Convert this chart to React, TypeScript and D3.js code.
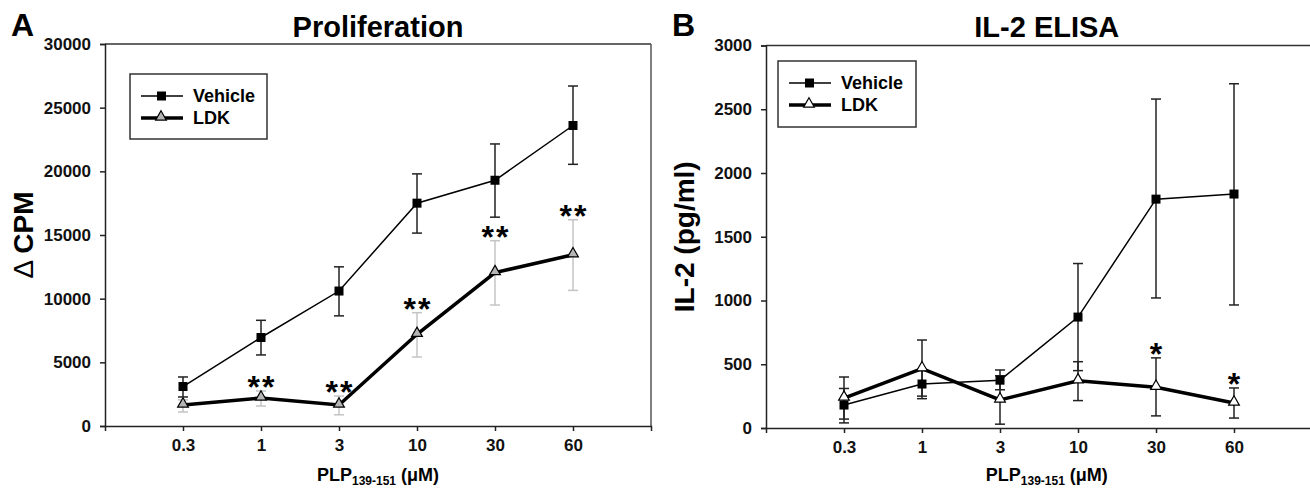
import React, { useEffect, useRef } from "react";
import * as d3 from "d3";

const W = 1310;
const H = 491;
const FONT = "'Liberation Sans', Arial, sans-serif";

// Data
const doses = ["0.3", "1", "3", "10", "30", "60"];

const profVehicle = [3100, 6950, 10600, 17500, 19300, 23600];
const profVehicleHi = [3850, 8300, 12500, 19800, 22150, 26700];
const profVehicleLo = [2280, 5580, 8650, 15150, 16400, 20550];
const profLdk = [1650, 2200, 1650, 7200, 12050, 13450];
const profLdkHi = [2050, 2750, 2350, 8900, 14550, 16200];
const profLdkLo = [1100, 1570, 880, 5420, 9500, 10650];
const profStars = ["", "**", "**", "**", "**", "**"];
const profTicks = [0, 5000, 10000, 15000, 20000, 25000, 30000];

const il2Vehicle = [180, 345, 375, 870, 1795, 1835];
const il2VehicleHi = [310, 455, 455, 1290, 2580, 2700];
const il2VehicleLo = [40, 230, 300, 450, 1020, 965];
const il2Ldk = [235, 465, 220, 370, 320, 196];
const il2LdkHi = [400, 690, 410, 520, 550, 314];
const il2LdkLo = [70, 250, 30, 215, 95, 78];
const il2Stars = ["", "", "", "", "*", "*"];
const il2Ticks = [0, 500, 1000, 1500, 2000, 2500, 3000];

interface Series {
  mean: number[];
  hi: number[];
  lo: number[];
}

interface PanelCfg {
  letter: string;
  title: string;
  yLabelPre: string;
  yLabel: string;
  left: number;
  right: number;
  top: number;
  bottom: number;
  yMax: number;
  ticks: number[];
  vehicle: Series;
  ldk: Series;
  stars: string[];
  ldkFill: string;
  ldkErr: string;
  rightBorder: boolean;
  titleAt: number;
  legend: { x: number; y: number; w: number; h: number };
}

const panels: PanelCfg[] = [
  {
    letter: "A",
    title: "Proliferation",
    yLabelPre: "\u0394 ",
    yLabel: "CPM",
    left: 105,
    right: 651,
    top: 44,
    bottom: 426,
    yMax: 30000,
    ticks: profTicks,
    vehicle: { mean: profVehicle, hi: profVehicleHi, lo: profVehicleLo },
    ldk: { mean: profLdk, hi: profLdkHi, lo: profLdkLo },
    stars: profStars,
    ldkFill: "#b4b4b4",
    ldkErr: "#c4c4c4",
    rightBorder: true,
    titleAt: 2.5,
    legend: { x: 130, y: 74, w: 137, h: 65 },
  },
  {
    letter: "B",
    title: "IL-2 ELISA",
    yLabelPre: "",
    yLabel: "IL-2 (pg/ml)",
    left: 766,
    right: 1312,
    top: 45.5,
    bottom: 428,
    yMax: 3000,
    ticks: il2Ticks,
    vehicle: { mean: il2Vehicle, hi: il2VehicleHi, lo: il2VehicleLo },
    ldk: { mean: il2Ldk, hi: il2LdkHi, lo: il2LdkLo },
    stars: il2Stars,
    ldkFill: "#ffffff",
    ldkErr: "#222",
    rightBorder: false,
    titleAt: 2.6,
    legend: { x: 778, y: 61, w: 138, h: 66 },
  },
];

const triangle = d3.symbol().type(d3.symbolTriangle).size(50);

function drawPanel(svg: d3.Selection<SVGSVGElement, unknown, null, undefined>, p: PanelCfg) {
  const g = svg.append("g");
  const x = d3.scaleLinear().domain([-1, 6]).range([p.left, p.right]);
  const y = d3.scaleLinear().domain([0, p.yMax]).range([p.bottom, p.top]);
  const idx = doses.map((_, i) => i);

  // box
  g.append("line")
    .attr("x1", p.left).attr("x2", p.right)
    .attr("y1", p.top).attr("y2", p.top)
    .attr("stroke", "#333").attr("stroke-width", 1.5);
  if (p.rightBorder) {
    g.append("line")
      .attr("x1", p.right).attr("x2", p.right)
      .attr("y1", p.top).attr("y2", p.bottom)
      .attr("stroke", "#555").attr("stroke-width", 1.5);
  }

  // y axis
  const yAxis = g.append("g")
    .attr("transform", `translate(${p.left},0)`)
    .call(d3.axisLeft(y).tickValues(p.ticks).tickSize(5).tickPadding(9).tickFormat(d3.format("d")));
  // x axis
  const xAxis = g.append("g")
    .attr("transform", `translate(0,${p.bottom})`)
    .call(d3.axisBottom(x).tickValues(idx).tickSize(5).tickPadding(8).tickFormat((d) => doses[+d]));

  [yAxis, xAxis].forEach((a) => {
    a.select(".domain").attr("stroke", "#222").attr("stroke-width", 1.5);
    a.selectAll(".tick line").attr("stroke", "#222").attr("stroke-width", 1.5);
    a.selectAll(".tick text")
      .attr("fill", "#111")
      .style("font-family", FONT)
      .style("font-size", "17px")
      .style("font-weight", "bold");
  });

  // error bars
  const errBars = (s: Series, color: string) => {
    const eg = g.append("g").attr("stroke", color).attr("stroke-width", 1.5);
    idx.forEach((i) => {
      eg.append("line")
        .attr("x1", x(i)).attr("x2", x(i))
        .attr("y1", y(s.hi[i])).attr("y2", y(s.lo[i]));
      [s.hi[i], s.lo[i]].forEach((v) => {
        eg.append("line")
          .attr("x1", x(i) - 5).attr("x2", x(i) + 5)
          .attr("y1", y(v)).attr("y2", y(v));
      });
    });
  };
  errBars(p.vehicle, "#222");
  errBars(p.ldk, p.ldkErr);

  const line = d3.line<number>().x((_, i) => x(i)).y((d) => y(d));

  g.append("path")
    .datum(p.ldk.mean)
    .attr("d", line)
    .attr("fill", "none")
    .attr("stroke", "#000")
    .attr("stroke-width", 3.5);
  g.append("path")
    .datum(p.vehicle.mean)
    .attr("d", line)
    .attr("fill", "none")
    .attr("stroke", "#000")
    .attr("stroke-width", 1.5);

  g.selectAll(".sq")
    .data(p.vehicle.mean)
    .enter()
    .append("rect")
    .attr("x", (_, i) => x(i) - 4.5)
    .attr("y", (d) => y(d) - 4.5)
    .attr("width", 9)
    .attr("height", 9)
    .attr("fill", "#000");

  g.selectAll(".tri")
    .data(p.ldk.mean)
    .enter()
    .append("path")
    .attr("d", triangle)
    .attr("transform", (d, i) => `translate(${x(i)},${y(d) - 1})`)
    .attr("fill", p.ldkFill)
    .attr("stroke", "#000")
    .attr("stroke-width", 1.2);

  // significance stars
  g.selectAll(".star")
    .data(p.stars)
    .enter()
    .append("text")
    .attr("x", (_, i) => x(i) + 1)
    .attr("y", (_, i) => y(p.ldk.hi[i]) + 7)
    .attr("text-anchor", "middle")
    .style("font-family", FONT)
    .style("font-size", "32px")
    .style("font-weight", "bold")
    .style("letter-spacing", "2px")
    .text((d) => d);

  // legend
  const L = p.legend;
  const lg = g.append("g").attr("transform", `translate(${L.x},${L.y})`);
  lg.append("rect")
    .attr("width", L.w).attr("height", L.h)
    .attr("fill", "#fff").attr("stroke", "#333").attr("stroke-width", 1.5);
  const rows = [
    { label: "Vehicle", dy: 22, w: 1.5, type: "sq" },
    { label: "LDK", dy: 44, w: 3.5, type: "tri" },
  ];
  rows.forEach((r) => {
    lg.append("line")
      .attr("x1", 11).attr("x2", 53)
      .attr("y1", r.dy).attr("y2", r.dy)
      .attr("stroke", "#000").attr("stroke-width", r.w);
    if (r.type === "sq") {
      lg.append("rect").attr("x", 27).attr("y", r.dy - 4.5).attr("width", 9).attr("height", 9).attr("fill", "#000");
    } else {
      lg.append("path")
        .attr("d", triangle)
        .attr("transform", `translate(31,${r.dy - 1})`)
        .attr("fill", p.ldkFill).attr("stroke", "#000").attr("stroke-width", 1.2);
    }
    lg.append("text")
      .attr("x", 63).attr("y", r.dy + 6)
      .style("font-family", FONT)
      .style("font-size", "18px")
      .style("font-weight", "bold")
      .text(r.label);
  });

  // titles and labels
  const centerX = x(p.titleAt);
  g.append("text")
    .attr("x", centerX).attr("y", 37)
    .attr("text-anchor", "middle")
    .style("font-family", FONT).style("font-size", "29px").style("font-weight", "bold")
    .text(p.title);

  g.append("text")
    .attr("x", p.left - 94).attr("y", 36)
    .style("font-family", FONT).style("font-size", "32px").style("font-weight", "bold")
    .text(p.letter);

  const yl = g.append("text")
    .attr("transform", `translate(${p.left - 72},${(p.top + p.bottom) / 2}) rotate(-90)`)
    .attr("text-anchor", "middle")
    .style("font-family", FONT).style("font-size", "28px").style("font-weight", "bold");
  if (p.yLabelPre) yl.append("tspan").style("font-weight", "normal").text(p.yLabelPre);
  yl.append("tspan").text(p.yLabel);

  const xl = g.append("text")
    .attr("x", centerX).attr("y", 481)
    .attr("text-anchor", "middle")
    .style("font-family", FONT).style("font-size", "18px").style("font-weight", "bold");
  xl.append("tspan").text("PLP");
  xl.append("tspan").attr("dy", 4).style("font-size", "12px").text("139-151");
  xl.append("tspan").attr("dy", -4).text(" (\u03bcM)");
}

export default function App() {
  const ref = useRef<SVGSVGElement>(null);

  useEffect(() => {
    const svg = d3.select(ref.current!);
    svg.selectAll("*").remove();
    panels.forEach((p) => drawPanel(svg, p));
  }, []);

  return (
    <div style={{ position: "absolute", left: 0, top: 0, background: "#fff" }}>
      <svg ref={ref} width={W} height={H} style={{ display: "block" }} />
    </div>
  );
}
